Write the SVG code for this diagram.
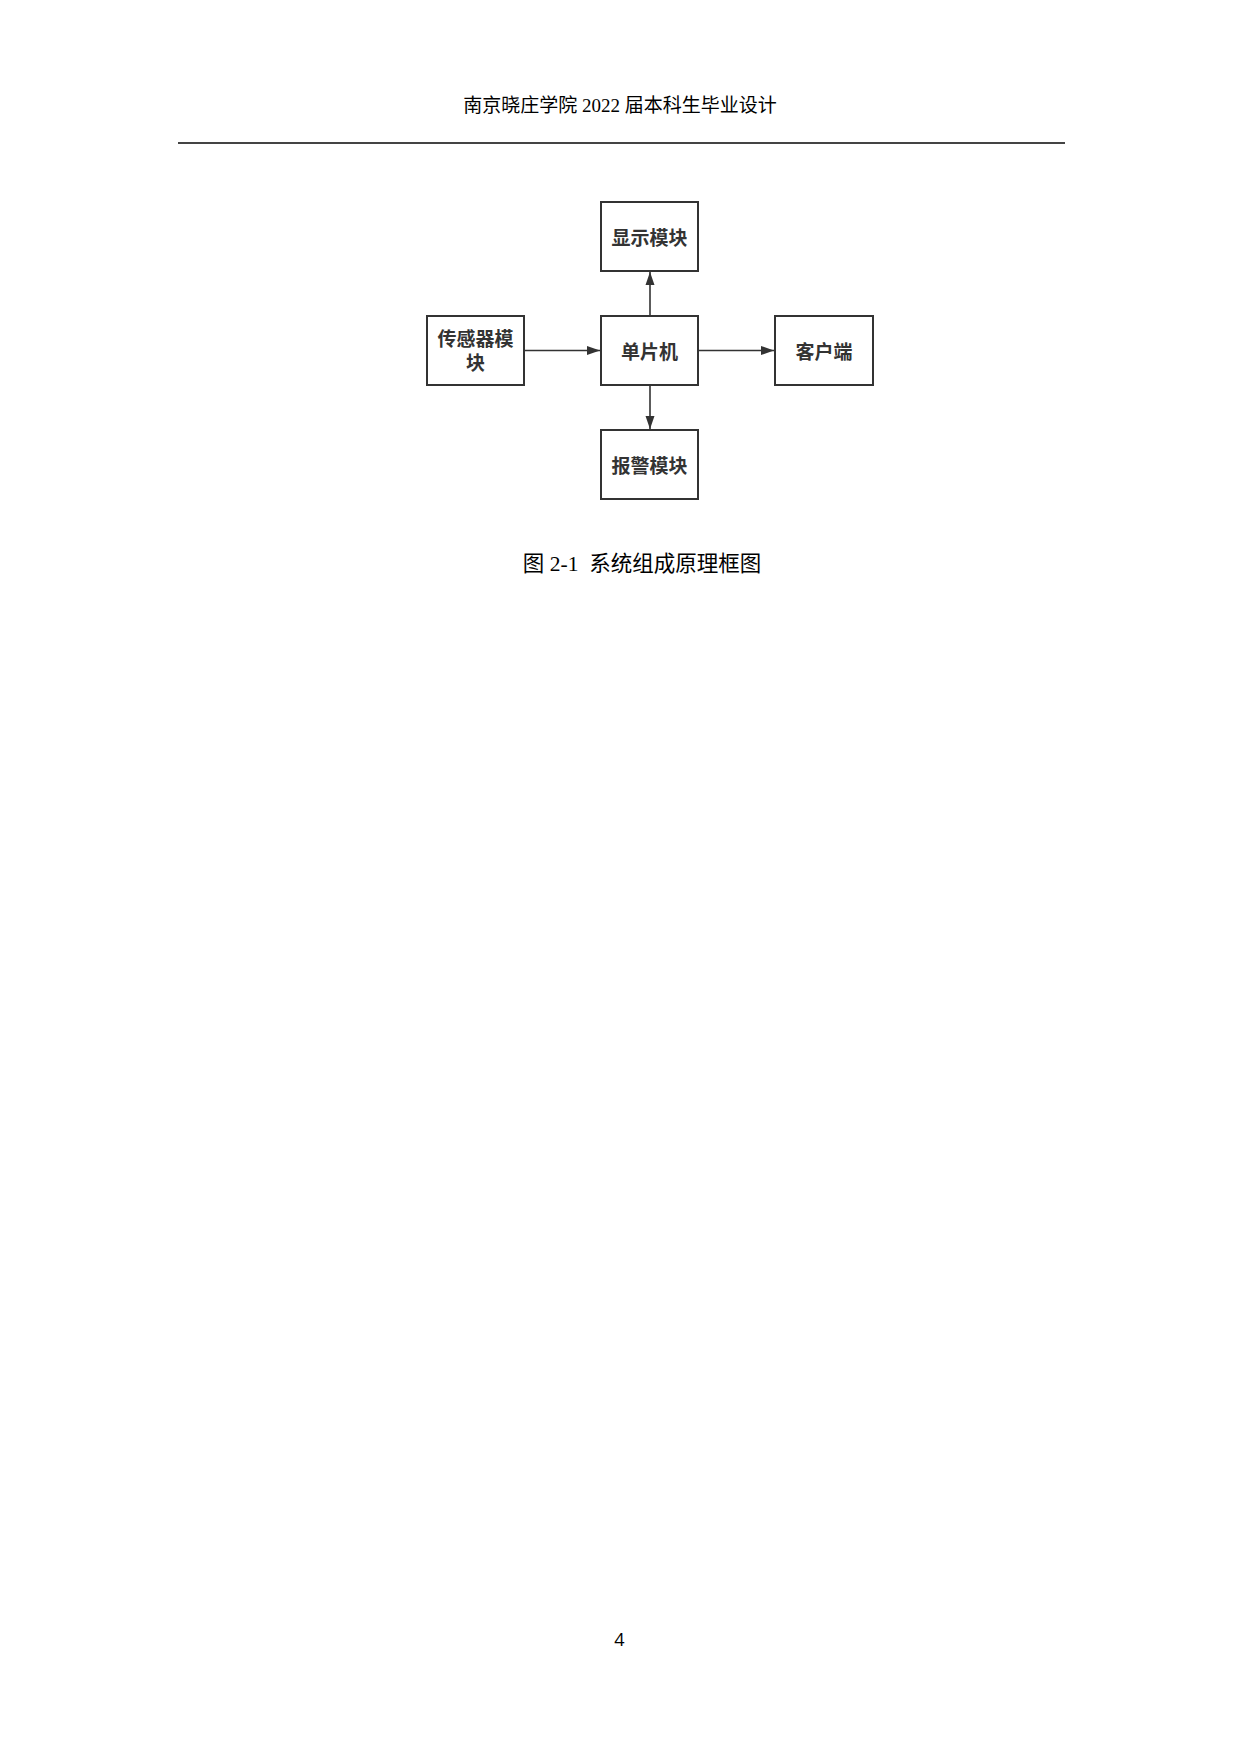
<svg xmlns="http://www.w3.org/2000/svg" width="1240" height="1754" viewBox="0 0 1240 1754">
<defs>
<style>
.box{fill:#fff;stroke:#333;stroke-width:2}
.lbl{font-family:"Noto Sans CJK SC","Noto Sans",sans-serif;font-weight:bold;font-size:19px;fill:#333;text-anchor:middle}
.edge{stroke:#333;stroke-width:1.6;fill:none}
.serif{font-family:"Liberation Serif","Noto Sans CJK SC",serif;fill:#000}
</style>
<marker id="ah" markerUnits="userSpaceOnUse" markerWidth="14" markerHeight="10" refX="13" refY="5" orient="auto">
<path d="M0,0.5 L13,5 L0,9.5 Z" fill="#333"/>
</marker>
</defs>
<rect width="1240" height="1754" fill="#fff"/>
<g id="header">
<text class="serif" x="620" y="112" font-size="19" text-anchor="middle">南京晓庄学院 2022 届本科生毕业设计</text>
<line x1="178" y1="143" x2="1065" y2="143" stroke="#444" stroke-width="2"/>
</g>
<g id="connectors">
<line class="edge" x1="524" y1="350.5" x2="600" y2="350.5" marker-end="url(#ah)"/>
<line class="edge" x1="698" y1="350.5" x2="774" y2="350.5" marker-end="url(#ah)"/>
<line class="edge" x1="650" y1="316" x2="650" y2="272" marker-end="url(#ah)"/>
<line class="edge" x1="650" y1="385" x2="650" y2="429" marker-end="url(#ah)"/>
</g>
<g id="display">
<rect class="box" x="601" y="202" width="97" height="69"/>
<text class="lbl" x="649.5" y="245">显示模块</text>
</g>
<g id="mcu">
<rect class="box" x="601" y="316" width="97" height="69"/>
<text class="lbl" x="649.5" y="358.5">单片机</text>
</g>
<g id="sensor">
<rect class="box" x="427" y="316" width="97" height="69"/>
<text class="lbl" x="475.5" y="346">传感器模</text>
<text class="lbl" x="475.5" y="370">块</text>
</g>
<g id="client">
<rect class="box" x="775" y="316" width="98" height="69"/>
<text class="lbl" x="824" y="358.5">客户端</text>
</g>
<g id="alarm">
<rect class="box" x="601" y="430" width="97" height="69"/>
<text class="lbl" x="649.5" y="472.5">报警模块</text>
</g>
<g id="caption">
<text class="serif" x="642" y="571" font-size="21.5" text-anchor="middle" xml:space="preserve">图 2-1  系统组成原理框图</text>
</g>
<g id="page">
<text x="619.5" y="1646" font-family="'Open Sans','Liberation Sans',sans-serif" font-size="18" text-anchor="middle" fill="#000">4</text>
</g>
</svg>
